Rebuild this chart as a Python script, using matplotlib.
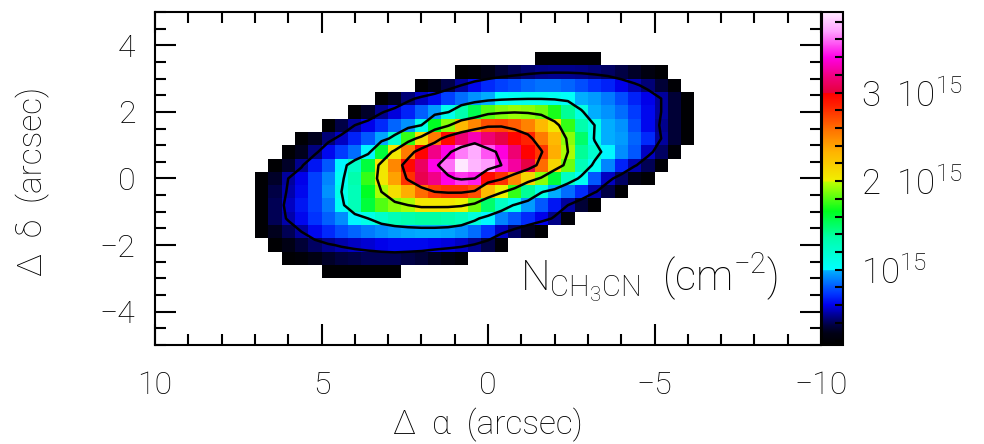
import numpy as np
import matplotlib
matplotlib.use("Agg")
import matplotlib.pyplot as plt
from matplotlib.colors import LinearSegmentedColormap
from matplotlib.ticker import MultipleLocator

plt.rcParams['font.family'] = ['Roboto', 'DejaVu Sans']
plt.rcParams['font.weight'] = 'light'
plt.rcParams['axes.labelweight'] = 'light'
plt.rcParams['mathtext.fontset'] = 'custom'
plt.rcParams['mathtext.rm'] = 'Roboto:light'
plt.rcParams['mathtext.it'] = 'Roboto:italic:light'

# pixel centres of the map (0.4" pixels)
ra_off = 0.4 * np.arange(17, -16, -1)    # Delta alpha, left to right
dec_off = 0.4 * np.arange(9, -8, -1)     # Delta delta, top row first

# N(CH3CN) per row in units of 1e15 cm^-2, row starts at column first_col
first_col = [21, 15, 12, 9, 7, 5, 3, 2, 1, 0, 0, 0, 0, 0, 1, 2, 5]
rows = [
    [0.17, 0.17, 0.17, 0.17, 0.17],
    [0.17, 0.2, 0.28, 0.35, 0.4, 0.44, 0.47, 0.48, 0.48, 0.47, 0.45, 0.42, 0.38, 0.32, 0.25, 0.17],
    [0.17, 0.27, 0.38, 0.5, 0.62, 0.7, 0.75, 0.78, 0.83, 0.86, 0.86, 0.83, 0.78, 0.72, 0.68, 0.6,
     0.53, 0.45, 0.35, 0.18],
    [0.17, 0.3, 0.45, 0.55, 0.63, 0.75, 0.85, 0.93, 0.98, 1.03, 1.06, 1.08, 1.08, 1.06, 1.03, 0.99,
     0.95, 0.88, 0.78, 0.68, 0.6, 0.5, 0.35, 0.17],
    [0.17, 0.32, 0.48, 0.58, 0.68, 0.82, 0.95, 1.08, 1.35, 1.55, 1.8, 1.88, 1.92, 1.9, 1.85, 1.7,
     1.4, 1.12, 0.99, 0.93, 0.85, 0.74, 0.62, 0.5, 0.35, 0.17],
    [0.17, 0.38, 0.5, 0.6, 0.7, 0.83, 0.93, 1.1, 1.65, 1.9, 2.3, 2.5, 2.7, 2.72, 2.65, 2.52, 2.3,
     2.05, 1.75, 1.35, 1.1, 0.99, 0.93, 0.78, 0.62, 0.48, 0.35, 0.17],
    [0.17, 0.3, 0.45, 0.55, 0.68, 0.8, 0.97, 1.2, 1.75, 2.1, 2.55, 2.95, 3.15, 3.3, 3.15, 3.03,
     2.97, 2.85, 2.55, 2.3, 1.9, 1.5, 1.08, 0.99, 0.95, 0.83, 0.7, 0.5, 0.35, 0.17],
    [0.17, 0.3, 0.46, 0.62, 0.74, 0.85, 1.0, 1.6, 2.05, 2.55, 2.97, 3.2, 3.4, 3.62, 3.72, 3.55,
     3.38, 3.15, 2.98, 2.78, 2.35, 1.95, 1.4, 1.2, 1.0, 0.92, 0.8, 0.55, 0.42, 0.2],
    [0.17, 0.32, 0.48, 0.65, 0.8, 1.0, 1.25, 1.6, 2.05, 2.5, 2.95, 3.1, 3.4, 3.6, 3.9, 3.75,
     3.68, 3.45, 3.25, 3.02, 2.6, 2.15, 1.85, 1.3, 1.05, 0.9, 0.68, 0.52, 0.4, 0.2],
    [0.17, 0.32, 0.5, 0.6, 0.75, 0.9, 1.05, 1.35, 1.75, 2.05, 2.4, 2.8, 3.05, 3.2, 3.4, 3.5,
     3.45, 2.95, 2.8, 2.5, 2.15, 1.9, 1.6, 1.25, 1.05, 0.8, 0.55, 0.42, 0.28, 0.17],
    [0.17, 0.38, 0.52, 0.62, 0.75, 0.93, 1.1, 1.3, 1.65, 1.95, 2.1, 2.35, 2.6, 2.75, 2.8, 2.8,
     2.7, 2.3, 2.0, 1.75, 1.4, 1.12, 0.98, 0.85, 0.7, 0.52, 0.38, 0.17],
    [0.17, 0.4, 0.55, 0.65, 0.75, 0.88, 1.05, 1.3, 1.6, 1.8, 1.9, 1.95, 2.05, 2.05, 2.05, 2.0,
     1.85, 1.5, 1.25, 1.08, 0.95, 0.8, 0.65, 0.5, 0.35, 0.17],
    [0.17, 0.4, 0.52, 0.62, 0.72, 0.82, 0.92, 1.0, 1.1, 1.22, 1.3, 1.35, 1.38, 1.38, 1.35, 1.28,
     1.15, 1.0, 0.9, 0.8, 0.7, 0.6, 0.47, 0.2],
    [0.17, 0.3, 0.4, 0.5, 0.62, 0.7, 0.78, 0.83, 0.88, 0.92, 0.95, 0.97, 0.98, 0.98, 0.97, 0.93,
     0.85, 0.72, 0.55, 0.42, 0.3, 0.17],
    [0.17, 0.28, 0.35, 0.42, 0.48, 0.52, 0.55, 0.57, 0.6, 0.62, 0.62, 0.62, 0.6, 0.58, 0.55, 0.48,
     0.38, 0.2],
    [0.17, 0.2, 0.27, 0.32, 0.36, 0.38, 0.4, 0.4, 0.4, 0.38, 0.35, 0.3, 0.25, 0.18],
    [0.17, 0.17, 0.17, 0.17, 0.17, 0.17],
]

contour_levels = [0.5, 1.1, 1.95, 2.75, 3.45]

# colour wedge: (value, colour)
cmap_nodes = [(0.15, '#000000'), (0.28, '#000014'), (0.38, '#000046'), (0.49, '#000096'),
              (0.6, '#0000eb'), (0.72, '#0032ff'), (0.83, '#0064ff'), (0.99, '#00afff'),
              (1.0, '#00ffff'), (1.36, '#00ffaa'), (1.66, '#00ff1e'), (1.99, '#beff00'),
              (2.0, '#f0f000'), (2.33, '#ffb400'), (2.56, '#ff7800'), (2.86, '#ff1e00'),
              (2.99, '#ff0000'), (3.0, '#e6003c'), (3.17, '#f00078'), (3.4, '#ff00e6'),
              (3.69, '#ffa0ff'), (3.91, '#ffebff')]
cbar_ticks = [1, 2, 3]
cbar_labels = ['10$^{15}$', '2  10$^{15}$', '3  10$^{15}$']

vmin, vmax = cmap_nodes[0][0], cmap_nodes[-1][0]
cmap = LinearSegmentedColormap.from_list(
    'wedge', [((v - vmin) / (vmax - vmin), c) for v, c in cmap_nodes], N=1024)

grid = np.full((len(dec_off), len(ra_off)), np.nan)
for i, (c0, vals) in enumerate(zip(first_col, rows)):
    grid[i, c0:c0 + len(vals)] = vals
grid = np.ma.masked_invalid(grid)

fig = plt.figure(figsize=(9.84, 4.44), dpi=100)
ax = fig.add_axes([155 / 984, 99 / 444, 666 / 984, 333 / 444])

im = ax.pcolormesh(ra_off, dec_off, grid, cmap=cmap, vmin=vmin, vmax=vmax, shading='nearest')
ax.contour(ra_off, dec_off, grid, levels=contour_levels, colors='k', linewidths=1.8)

ax.set_xlim(10, -10)
ax.set_ylim(-5, 5)
ax.xaxis.set_major_locator(MultipleLocator(5))
ax.xaxis.set_minor_locator(MultipleLocator(1))
ax.yaxis.set_major_locator(MultipleLocator(2))
ax.yaxis.set_minor_locator(MultipleLocator(0.5))
ax.tick_params(which='both', direction='in', top=True, right=True, width=1.5,
               labelsize=23, pad=14, labelcolor='black')
ax.tick_params(axis='x', which='both', pad=19)
ax.tick_params(which='major', length=15)
ax.tick_params(which='minor', length=8)
for s in ax.spines.values():
    s.set_linewidth(1.5)

ax.set_xlabel('Δ  α  (arcsec)', fontsize=24, fontweight='light')
ax.xaxis.set_label_coords(0.5, -0.19)
ax.set_ylabel('Δ  δ  (arcsec)', fontsize=24, fontweight='light')
ax.yaxis.set_label_coords(-0.158, 0.49)

ax.text(0.548, 0.165, r'N$_{\mathregular{CH_3CN}}$  (cm$^{-2}$)', transform=ax.transAxes,
        fontsize=30, fontweight='light', ha='left', va='baseline')

cax = fig.add_axes([822 / 984, 99 / 444, 21 / 984, 333 / 444])
cb = fig.colorbar(im, cax=cax)
cb.set_ticks(cbar_ticks, labels=cbar_labels)
cax.yaxis.set_minor_locator(MultipleLocator(0.2))
cax.tick_params(which='both', direction='in', left=False, right=True, length=6, width=1.5,
                labelsize=25, pad=13)
cb.outline.set_linewidth(1.5)

fig.savefig('out.png', dpi=100)
